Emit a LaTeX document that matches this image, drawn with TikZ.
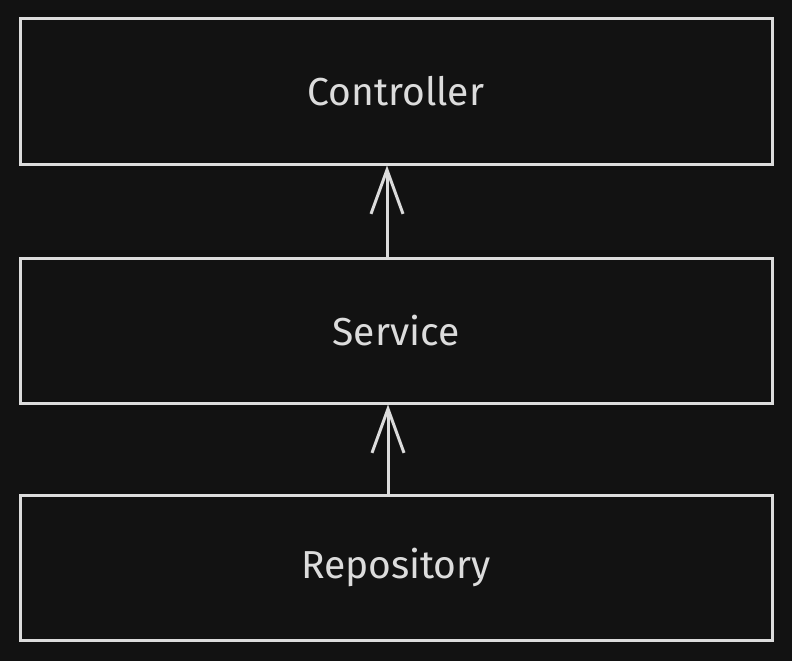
\documentclass[tikz,border=0pt]{standalone}
\usepackage{fontspec}
\setmainfont{Fira Sans}
\usetikzlibrary{arrows.meta}
\definecolor{bgdark}{HTML}{121212}
\definecolor{inkgray}{HTML}{DCDCDC}
\begin{document}
\begin{tikzpicture}[x=1pt, y=-1pt,
  layer/.style={draw=inkgray, line width=3pt, fill=bgdark, text=inkgray,
    minimum width=752pt, minimum height=145pt, inner sep=0pt,
    font=\fontsize{39}{44}\selectfont},
  dep/.style={draw=inkgray, line width=3pt,
    -{Straight Barb[length=44pt,width=32pt,line width=3pt]}}]
  \fill[bgdark] (0,0) rectangle (792,661);
  \useasboundingbox (0,0) rectangle (792,661);
  \node[layer] (ctrl) at (396,91.5) {Controller};
  \node[layer] (svc) at (396,330.5) {Service};
  \node[layer] (repo) at (396,567.5) {Repository};
  \draw[dep] ([xshift=-9pt]svc.north) -- ([xshift=-9pt]ctrl.south);
  \draw[dep] ([xshift=-8pt]repo.north) -- ([xshift=-8pt]svc.south);
\end{tikzpicture}
\end{document}
